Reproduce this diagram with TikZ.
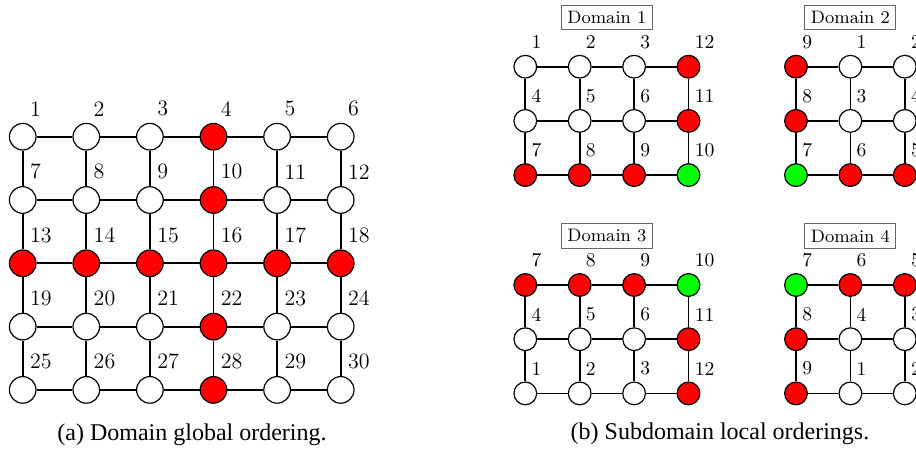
\documentclass[tikz,border=0pt]{standalone}
\usepackage{fontspec}
\newfontfamily\capfont{Liberation Serif}
\usetikzlibrary{positioning}
% one subdomain: #1 name, #2 x, #3 y, #4 columns, #5 title, #6 label/colour list
\newcommand{\subdomain}[6]{%
  \foreach \lab/\col [count=\k from 0] in {#6} {
    \pgfmathtruncatemacro\c{mod(\k,#4)}
    \pgfmathtruncatemacro\r{div(\k,#4)}
    \node[sub, fill=\col] (#1\k) at ({#2+54.4*\c},{#3+54.2*\r}) {};
    \node[subnum, above right=4.6pt and -1.3pt of #1\k] (#1l\k) {\lab};
  }
  \pgfmathtruncatemacro\m{#4-1}
  \foreach \r in {0,1,2}
    \foreach \c in {1,...,\m} {
      \pgfmathtruncatemacro\a{\r*#4+\c-1}
      \pgfmathtruncatemacro\b{\a+1}
      \draw[wire] (#1\a) -- (#1\b);
    }
  \foreach \r in {0,1}
    \foreach \c in {0,...,\m} {
      \pgfmathtruncatemacro\a{\r*#4+\c}
      \pgfmathtruncatemacro\b{\a+#4}
      \draw[wire] (#1\a) -- (#1\b);
    }
  \node[tag] (#1t) at ({#2+54.4*(#4-1)/2},{#3-49}) {#5};
}

\begin{document}
\begin{tikzpicture}[x=0.5pt, y=-0.5pt,
    main/.style = {draw, circle, minimum size=13.3pt, inner sep=0pt, line width=0.6pt},
    sub/.style = {main, minimum size=11.35pt},
    num/.style = {inner sep=0pt, font=\fontsize{11}{13}\selectfont},
    subnum/.style = {inner sep=0pt, font=\fontsize{9.8}{11}\selectfont},
    wire/.style = {line width=0.9pt},
    tag/.style = {draw=black!60, line width=0.5pt, inner sep=3pt, font=\fontsize{9}{11}\selectfont},
    caption/.style = {font=\capfont\fontsize{12}{14}\selectfont}]
    \useasboundingbox (0,0) rectangle (916,449);
    \clip (0,0) rectangle (916,449);

    % global ordering
    \foreach \r in {0,...,4}
      \foreach \c in {0,...,5} {
        \pgfmathtruncatemacro\n{6*\r+\c+1}
        \pgfmathtruncatemacro\hot{or(\c==3,\r==2)}
        \ifnum\hot=1 \def\col{red}\else\def\col{white}\fi
        \node[main, fill=\col] (g\n) at ({22.7+63.6*\c},{136.7+63.3*\r}) {};
        \node[num, above right=5.2pt and -1.4pt of g\n] (t\n) {\n};
      }
    \foreach \r in {0,...,4}
      \foreach \c in {1,...,5} {
        \pgfmathtruncatemacro\a{6*\r+\c}
        \pgfmathtruncatemacro\b{\a+1}
        \draw[wire] (g\a) -- (g\b);
      }
    \foreach \n in {1,...,24} {
      \pgfmathtruncatemacro\b{\n+6}
      \draw[wire] (g\n) -- (g\b);
    }
    \node[caption] (capa) at (192,435) {(a) Domain global ordering.};

    % local orderings
    \subdomain{da}{525.3}{66.7}{4}{Domain 1}{1/white,2/white,3/white,12/red,4/white,5/white,6/white,11/red,7/red,8/red,9/red,10/green}
    \subdomain{db}{796}{66.7}{3}{Domain 2}{9/red,1/white,2/white,8/red,3/white,4/white,7/green,6/red,5/red}
    \subdomain{dc}{525.3}{285}{4}{Domain 3}{7/red,8/red,9/red,10/green,4/white,5/white,6/white,11/red,1/white,2/white,3/white,12/red}
    \subdomain{dd}{796}{285}{3}{Domain 4}{7/green,6/red,5/red,8/red,4/white,3/white,9/red,1/white,2/white}
    \node[caption] (capb) at (720,433.5) {(b) Subdomain local orderings.};
\end{tikzpicture}
\end{document}
